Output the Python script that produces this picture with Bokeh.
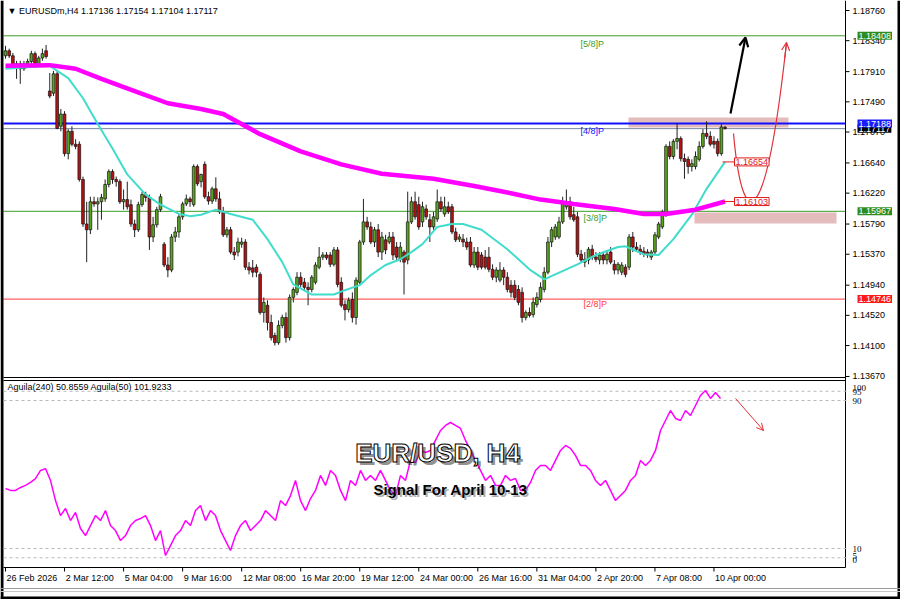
import numpy as np
from bokeh.plotting import figure
from bokeh.models import Range1d, Label, Arrow, OpenHead, ColumnDataSource
from bokeh.core.properties import value
from bokeh.embed import file_html
from bokeh.resources import INLINE

# ---------------- data (EURUSD H4 candles) ----------------
open_ = [1.1813,1.1820,1.1813,1.1799,1.1802,1.1795,1.1802,1.1805,1.1816,1.1799,1.1810,1.1820,
         1.1764,1.1761,1.1788,1.1715,1.1732,1.1677,1.1708,1.1690,1.1690,1.1641,1.1579,1.1571,
         1.1610,1.1607,1.1610,1.1614,1.1634,1.1652,1.1641,1.1638,1.1610,1.1613,1.1606,1.1579,
         1.1571,1.1606,1.1620,1.1616,1.1561,1.1578,1.1599,1.1551,1.1522,1.1515,1.1561,1.1568,
         1.1589,1.1607,1.1614,1.1606,1.1659,1.1638,1.1662,1.1617,1.1611,1.1628,1.1614,1.1596,
         1.1564,1.1571,1.1540,1.1540,1.1551,1.1554,1.1519,1.1518,1.1519,1.1509,1.1456,1.1466,
         1.1442,1.1424,1.1414,1.1438,1.1449,1.1421,1.1477,1.1484,1.1505,1.1498,1.1491,1.1488,
         1.1498,1.1519,1.1533,1.1536,1.1536,1.1523,1.1543,1.1498,1.1467,1.1460,1.1474,1.1449,
         1.1498,1.1554,1.1582,1.1575,1.1554,1.1571,1.1540,1.1557,1.1554,1.1561,1.1547,1.1530,
         1.1540,1.1529,1.1582,1.1610,1.1606,1.1582,1.1600,1.1585,1.1575,1.1586,1.1610,1.1593,
         1.1603,1.1603,1.1568,1.1558,1.1558,1.1554,1.1554,1.1522,1.1540,1.1536,1.1533,1.1533,
         1.1516,1.1505,1.1501,1.1515,1.1505,1.1494,1.1494,1.1488,1.1484,1.1449,1.1456,1.1453,
         1.1467,1.1474,1.1488,1.1512,1.1554,1.1561,1.1561,1.1582,1.1603,1.1610,1.1592,1.1589,
         1.1537,1.1526,1.1529,1.1544,1.1533,1.1529,1.1536,1.1529,1.1540,1.1523,1.1515,1.1512,
         1.1519,1.1519,1.1561,1.1547,1.1544,1.1541,1.1540,1.1533,1.1540,1.1561,1.1575,1.1593,
         1.1687,1.1673,1.1694,1.1698,1.1670,1.1669,1.1659,1.1659,1.1669,1.1687,1.1705,1.1701,
         1.1694,1.1694,1.1677,1.17136]
high = [1.1827,1.1823,1.1817,1.1806,1.1806,1.1806,1.1809,1.1820,1.1819,1.1813,1.1823,1.1828,
        1.1789,1.1792,1.1792,1.1739,1.1736,1.1711,1.1715,1.1697,1.1694,1.1645,1.1610,1.1617,
        1.1617,1.1616,1.1621,1.1641,1.1655,1.1655,1.1645,1.1641,1.1627,1.1638,1.1613,1.1585,
        1.1610,1.1624,1.1624,1.1620,1.1589,1.1603,1.1621,1.1554,1.1533,1.1565,1.1575,1.1593,
        1.1610,1.1620,1.1617,1.1662,1.1662,1.1649,1.1666,1.1624,1.1631,1.1644,1.1624,1.1603,
        1.1575,1.1575,1.1547,1.1560,1.1560,1.1558,1.1526,1.1529,1.1523,1.1512,1.1477,1.1473,
        1.1453,1.1428,1.1445,1.1453,1.1456,1.1481,1.1491,1.1512,1.1512,1.1504,1.1498,1.1508,
        1.1526,1.1547,1.1540,1.1540,1.1540,1.1547,1.1547,1.1505,1.1473,1.1477,1.1484,1.1505,
        1.1557,1.1614,1.1589,1.1582,1.1575,1.1579,1.1568,1.1564,1.1568,1.1568,1.1554,1.1554,
        1.1543,1.1624,1.1617,1.1624,1.1617,1.1610,1.1606,1.1593,1.1596,1.1627,1.1617,1.1617,
        1.1610,1.1607,1.1574,1.1565,1.1565,1.1560,1.1561,1.1547,1.1547,1.1540,1.1543,1.1547,
        1.1523,1.1519,1.1526,1.1519,1.1512,1.1501,1.1501,1.1494,1.1491,1.1459,1.1463,1.1477,
        1.1484,1.1498,1.1519,1.1561,1.1575,1.1579,1.1589,1.1617,1.1627,1.1617,1.1603,1.1596,
        1.1543,1.1540,1.1547,1.1550,1.1540,1.1540,1.1540,1.1543,1.1547,1.1529,1.1526,1.1526,
        1.1523,1.1565,1.1568,1.1554,1.1550,1.1547,1.1544,1.1543,1.1568,1.1582,1.1599,1.1690,
        1.1694,1.1697,1.1719,1.1701,1.1677,1.1673,1.1669,1.1680,1.1694,1.1711,1.1722,1.1708,
        1.1701,1.1698,1.1718,1.17154]
low = [1.1809,1.1810,1.1796,1.1781,1.1774,1.1792,1.1798,1.1800,1.1796,1.1798,1.1806,1.1809,
       1.1754,1.1757,1.1711,1.1708,1.1673,1.1669,1.1687,1.1683,1.1638,1.1575,1.1526,1.1565,
       1.1603,1.1571,1.1585,1.1610,1.1630,1.1635,1.1631,1.1607,1.1599,1.1599,1.1575,1.1561,
       1.1568,1.1603,1.1610,1.1543,1.1554,1.1574,1.1596,1.1519,1.1505,1.1512,1.1554,1.1560,
       1.1585,1.1604,1.1603,1.1603,1.1632,1.1630,1.1614,1.1606,1.1607,1.1610,1.1593,1.1561,
       1.1560,1.1537,1.1529,1.1534,1.1546,1.1515,1.1509,1.1505,1.1505,1.1453,1.1442,1.1431,
       1.1417,1.1410,1.1411,1.1434,1.1414,1.1417,1.1470,1.1480,1.1491,1.1487,1.1466,1.1484,
       1.1495,1.1516,1.1529,1.1529,1.1519,1.1520,1.1491,1.1463,1.1445,1.1456,1.1442,1.1439,
       1.1495,1.1550,1.1571,1.1551,1.1547,1.1533,1.1529,1.1537,1.1551,1.1529,1.1529,1.1526,
       1.1481,1.1523,1.1579,1.1585,1.1571,1.1575,1.1585,1.1554,1.1571,1.1582,1.1596,1.1589,
       1.1593,1.1565,1.1554,1.1554,1.1547,1.1543,1.1519,1.1518,1.1515,1.1516,1.1516,1.1512,
       1.1501,1.1498,1.1498,1.1494,1.1484,1.1477,1.1473,1.1466,1.1442,1.1445,1.1449,1.1449,
       1.1463,1.1470,1.1484,1.1509,1.1547,1.1557,1.1558,1.1579,1.1599,1.1585,1.1582,1.1533,
       1.1526,1.1519,1.1523,1.1529,1.1526,1.1523,1.1523,1.1523,1.1523,1.1509,1.1509,1.1508,
       1.1505,1.1515,1.1540,1.1540,1.1536,1.1533,1.1532,1.1529,1.1537,1.1558,1.1572,1.1589,
       1.1669,1.1669,1.1683,1.1666,1.1642,1.1649,1.1652,1.1655,1.1666,1.1684,1.1697,1.1687,
       1.1684,1.1673,1.1674,1.17104]
close = [1.1820,1.1813,1.1799,1.1802,1.1795,1.1802,1.1805,1.1816,1.1799,1.1810,1.1816,1.1812,
         1.1757,1.1788,1.1712,1.1732,1.1677,1.1708,1.1690,1.1687,1.1641,1.1579,1.1571,1.1610,
         1.1607,1.1610,1.1616,1.1634,1.1652,1.1641,1.1638,1.1610,1.1613,1.1603,1.1579,1.1571,
         1.1606,1.1620,1.1616,1.1561,1.1578,1.1599,1.1617,1.1522,1.1515,1.1561,1.1568,1.1589,
         1.1607,1.1614,1.1610,1.1659,1.1635,1.1648,1.1617,1.1611,1.1628,1.1614,1.1596,1.1564,
         1.1571,1.1540,1.1536,1.1554,1.1554,1.1519,1.1515,1.1512,1.1512,1.1456,1.1470,1.1442,
         1.1421,1.1414,1.1438,1.1449,1.1421,1.1477,1.1488,1.1505,1.1495,1.1491,1.1488,1.1505,
         1.1522,1.1533,1.1536,1.1532,1.1523,1.1543,1.1495,1.1466,1.1460,1.1473,1.1449,1.1501,
         1.1554,1.1582,1.1575,1.1554,1.1571,1.1540,1.1561,1.1543,1.1561,1.1536,1.1533,1.1547,
         1.1526,1.1582,1.1610,1.1589,1.1575,1.1603,1.1589,1.1575,1.1589,1.1610,1.1600,1.1603,
         1.1596,1.1568,1.1557,1.1561,1.1554,1.1547,1.1522,1.1540,1.1519,1.1519,1.1519,1.1516,
         1.1505,1.1515,1.1515,1.1505,1.1488,1.1484,1.1477,1.1470,1.1449,1.1456,1.1452,1.1470,
         1.1477,1.1491,1.1512,1.1554,1.1571,1.1575,1.1582,1.1610,1.1610,1.1589,1.1585,1.1537,
         1.1529,1.1530,1.1544,1.1533,1.1530,1.1536,1.1529,1.1537,1.1526,1.1515,1.1523,1.1522,
         1.1509,1.1561,1.1547,1.1544,1.1540,1.1537,1.1536,1.1540,1.1564,1.1579,1.1596,1.1687,
         1.1673,1.1694,1.1698,1.1670,1.1666,1.1659,1.1663,1.1673,1.1687,1.1705,1.1701,1.1690,
         1.1690,1.1677,1.1714,1.17117]

# slow moving average (magenta) and fast moving average (cyan): bar index -> value
ma_slow_bar = [0, 12, 19, 26, 35, 44, 53, 59, 69, 80, 91, 102, 116, 127, 135, 145, 154, 165, 173, 179, 187, 195]
ma_slow_val = [1.1799, 1.1800, 1.1795, 1.1781, 1.1764, 1.1747, 1.1739, 1.1732, 1.1704, 1.1680, 1.1662,
               1.1649, 1.1642, 1.1632, 1.1624, 1.1613, 1.1607, 1.1600, 1.1593, 1.1593, 1.1599, 1.16103]
ma_fast_bar = [0, 12, 17, 21, 25, 29, 33, 38, 42, 47, 50, 53, 57, 61, 67, 71, 75, 78, 83, 89, 92, 96, 99,
               103, 107, 110, 113, 117, 121, 124, 129, 136, 142, 146, 149, 155, 160, 166, 168, 173, 177,
               181, 186, 190, 195]
ma_fast_val = [1.1795, 1.1799, 1.1782, 1.1754, 1.1718, 1.1684, 1.1648, 1.1620, 1.1606, 1.1593, 1.1590,
               1.1592, 1.1599, 1.1593, 1.1585, 1.1558, 1.1526, 1.1495, 1.1481, 1.1481, 1.1487, 1.1494,
               1.1508, 1.1522, 1.1530, 1.1540, 1.1551, 1.1575, 1.1579, 1.1579, 1.1571, 1.1544, 1.1516,
               1.1502, 1.1509, 1.1523, 1.1536, 1.1547, 1.1548, 1.1537, 1.1536, 1.1558, 1.1592, 1.1628,
               1.16654]

# Aguila oscillator (lower panel), one sample every ~1.36 bars
osc_val = [42.4, 41.4, 41.4, 43.0, 44.1, 45.7, 47.8, 52.2, 53.2, 46.8, 35.9, 27.8, 31.6, 25.1, 29.5, 20.8,
           17.0, 22.4, 27.8, 25.1, 30.5, 22.4, 19.7, 14.3, 17.0, 22.4, 25.1, 26.2, 27.8, 22.4, 14.3, 19.7,
           6.2, 11.6, 17.0, 19.7, 25.1, 22.4, 30.5, 33.2, 25.1, 30.5, 27.8, 19.7, 14.3, 8.9, 17.0, 22.4,
           25.1, 19.7, 22.4, 25.1, 30.5, 27.8, 25.1, 35.9, 33.2, 38.6, 46.8, 35.9, 30.5, 37.0, 41.4, 49.5,
           44.1, 52.2, 49.5, 41.4, 35.9, 46.8, 44.1, 52.2, 46.8, 49.5, 46.8, 52.2, 46.8, 41.4, 38.6, 49.5,
           46.8, 57.6, 56.5, 63.0, 61.9, 63.0, 68.4, 73.8, 76.5, 78.1, 76.5, 74.9, 68.4, 63.0, 57.6, 52.2,
           46.8, 49.5, 44.1, 44.1, 49.5, 46.8, 47.8, 41.4, 41.4, 45.7, 52.2, 54.9, 54.9, 52.2, 57.6, 63.0,
           65.7, 64.1, 60.3, 54.9, 54.9, 52.2, 46.8, 44.1, 46.8, 41.4, 35.9, 38.6, 41.4, 46.8, 49.5, 57.6,
           54.9, 57.6, 63.0, 73.8, 79.2, 84.6, 80.3, 79.2, 84.6, 81.9, 87.3, 92.7, 95.4, 91.1, 94.3, 91.1]
osc_levels = [95, 90, 10, 5]
osc_tick_labels = ["100", "95", "90", "10", "5", "0"]

price_ticks = [1.18760, 1.18340, 1.17910, 1.17490, 1.17070, 1.16640, 1.16220, 1.15790,
               1.15370, 1.14940, 1.14520, 1.14100, 1.13670]
date_ticks = [0, 16, 32, 48, 64, 80, 96, 112, 128, 144, 160, 176, 192]
date_labels = ["26 Feb 2026", "2 Mar 12:00", "5 Mar 04:00", "9 Mar 16:00", "12 Mar 08:00",
               "16 Mar 20:00", "19 Mar 12:00", "24 Mar 00:00", "26 Mar 16:00", "31 Mar 04:00",
               "2 Apr 20:00", "7 Apr 08:00", "10 Apr 00:00"]

murrey_levels = [1.18408, 1.17188, 1.15967, 1.14746]
murrey_names = ["[5/8]P", "[4/8]P", "[3/8]P", "[2/8]P"]
murrey_colors = ["#3c9c28", "#1010ff", "#3c9c28", "#ff3a3a"]
last_price = 1.17117
target_labels = [1.16654, 1.16103]

# ---------------- geometry helpers (page pixels -> data) ----------------
W, H = 900, 599
PXB = 3.69          # pixels per bar
PPU = 7190.0        # pixels per price unit


def X(px):
    return (px - 5) / PXB


def Y(py):
    return 1.18760 - (py - 10) / PPU


def V(py):
    return (566.5 - py) / 1.85


FONT = "Liberation Sans"
p = figure(width=W, height=H, x_range=Range1d(X(0), X(W)), y_range=Range1d(Y(H), Y(0)),
           output_backend="svg", toolbar_location=None, x_axis_location=None, y_axis_location=None,
           min_border=0, min_border_left=0, min_border_right=0, min_border_top=0, min_border_bottom=0)
p.extra_y_ranges = {"osc": Range1d(V(H), V(0))}
p.grid.visible = False
p.outline_line_color = None
p.background_fill_color = "white"
p.border_fill_color = "white"

XL, XR = X(3), X(845)

# shaded zones
p.quad(left=[X(628), X(694)], right=[X(788), X(836)], bottom=[Y(127), Y(223)], top=[Y(117), Y(212)],
       fill_color="#dba5a5", fill_alpha=0.75, line_alpha=0)

# level lines
for lv, col in zip(murrey_levels, murrey_colors):
    p.segment(x0=[XL], y0=[lv], x1=[XR], y1=[lv], line_color=col, line_width=2 if col == "#1010ff" else 1)
p.segment(x0=[XL], y0=[last_price], x1=[XR], y1=[last_price], line_color="#7888a0", line_width=1)

# candles
o = np.array(open_); c = np.array(close)
N = len(c)
src = ColumnDataSource(dict(x=np.arange(N), top=np.maximum(o, c), bottom=np.minimum(o, c),
                            high=high, low=low,
                            color=np.where(c >= o, "#5aa51e", "#b51212")))
p.segment("x", "high", "x", "low", source=src, line_color="#222222", line_width=1)
p.vbar(x="x", top="top", bottom="bottom", width=0.74, fill_color="color", line_color="#111111",
       line_width=0.7, source=src)

# moving averages
p.line(ma_fast_bar, ma_fast_val, line_color="#40dccc", line_width=2)
p.line(ma_slow_bar, ma_slow_val, line_color="#ff00ff", line_width=4.5)

# level names
lbl_pos = [(X(580), Y(43)), (X(580), Y(130)), (X(583), Y(217)), (X(583), Y(303))]
p.text(x=[a for a, b in lbl_pos], y=[b for a, b in lbl_pos], text=murrey_names,
       text_color=murrey_colors, text_font=value(FONT), text_font_size="9px", text_baseline="middle")

# target boxes with connectors
for lv in target_labels:
    p.segment(x0=[X(722)], y0=[lv], x1=[X(734)], y1=[lv], line_color="#e02020", line_width=1)
    p.add_layout(Label(x=X(734), y=lv, text=f"{lv:.5f}", text_color="#e01818", text_font=FONT,
                       text_font_size="9px", text_baseline="middle", background_fill_color="white",
                       border_line_color="#e01818", border_line_width=1, padding=1))

# forecast arrows
p.add_layout(Arrow(end=OpenHead(size=9, line_color="black", line_width=2.2),
                   x_start=X(730), y_start=Y(113), x_end=X(745), y_end=Y(37),
                   line_color="black", line_width=2.2))
bx0, by0, bcx0, bcy0, bcx1, bcy1, bx1, by1 = X(733), Y(133), X(742), Y(235), X(765), Y(235), X(786), Y(42)
p.bezier(x0=[bx0], y0=[by0], x1=[bx1], y1=[by1], cx0=[bcx0], cy0=[bcy0], cx1=[bcx1], cy1=[bcy1],
         line_color="#e0303a", line_width=1.2)
p.add_layout(Arrow(end=OpenHead(size=8, line_color="#e0303a", line_width=1.2),
                   x_start=bx1 - 0.08 * (bx1 - bcx1), y_start=by1 - 0.08 * (by1 - bcy1),
                   x_end=bx1, y_end=by1, line_color="#e0303a", line_width=1.2))

# header
p.text(x=[X(7)], y=[Y(10)], text=["\u25bc EURUSDm,H4  1.17136 1.17154 1.17104 1.17117"],
       text_font=value(FONT), text_font_size="9px", text_baseline="middle", text_color="black")

# ---------------- frame lines ----------------
p.segment(x0=[XR], y0=[Y(0)], x1=[XR], y1=[Y(567)], line_color="black", line_width=1)
for yy in (377, 380, 567):
    p.segment(x0=[XL], y0=[Y(yy)], x1=[XR], y1=[Y(yy)], line_color="black", line_width=1)
p.segment(x0=[X(1.5)], y0=[Y(0)], x1=[X(1.5)], y1=[Y(599)], line_color="black", line_width=3)
p.segment(x0=[X(898.5)], y0=[Y(0)], x1=[X(898.5)], y1=[Y(599)], line_color="black", line_width=3)
for yy, col, lw in ((588, "#9a9a9a", 1), (591, "#c8c8c8", 1), (597.5, "black", 3)):
    p.segment(x0=[X(0)], y0=[Y(yy)], x1=[X(900)], y1=[Y(yy)], line_color=col, line_width=lw)

# price axis ticks and labels
p.segment(x0=[XR] * len(price_ticks), y0=price_ticks, x1=[X(849)] * len(price_ticks), y1=price_ticks,
          line_color="black", line_width=1)
p.text(x=[X(852)] * len(price_ticks), y=price_ticks, text=[f"{t:.5f}" for t in price_ticks],
       text_font=value(FONT), text_font_size="9px", text_baseline="middle", text_color="black")

# right-axis price tags
for lv, bg in [(1.18408, "#2e8b1e"), (1.14746, "#ff1a1a"), (1.15967, "#2e8b1e"),
               (last_price, "black"), (1.17188, "#1a1aff")]:
    p.add_layout(Label(x=X(857), y=lv, text=f"{lv:.5f}", text_color="white",
                       text_font=FONT, text_font_size="9px", text_baseline="middle",
                       background_fill_color=bg, padding=1))

# date axis ticks and labels
p.segment(x0=date_ticks, y0=[Y(567)] * len(date_ticks), x1=date_ticks, y1=[Y(571)] * len(date_ticks),
          line_color="black", line_width=1)
p.text(x=[t + 0.3 for t in date_ticks], y=[Y(577)] * len(date_ticks), text=date_labels,
       text_font=value(FONT), text_font_size="9px", text_baseline="middle", text_color="black")

# ---------------- oscillator panel ----------------
osc_x = (np.arange(5, 721, 5) - 5) / 3.69
p.segment(x0=[XL] * 4, y0=osc_levels, x1=[X(849)] * 4, y1=osc_levels, y_range_name="osc",
          line_color="#b8b8b8", line_dash="3 3", line_width=1)
p.line(osc_x, osc_val, y_range_name="osc", line_color="#ff00ff", line_width=1.5)
p.add_layout(Arrow(end=OpenHead(size=7, line_color="#e03030", line_width=1),
                   x_start=X(735), y_start=V(398), x_end=X(763), y_end=V(430), y_range_name="osc",
                   line_color="#e03030", line_width=1))
p.text(x=[X(7)], y=[Y(386)], text=["Aguila(240) 50.8559  Aguila(50) 101.9233"],
       text_font=value(FONT), text_font_size="9px", text_baseline="middle", text_color="black")
osc_lab_y = [387, 391, 400, 548, 555, 559]
p.text(x=[X(852)] * 6, y=[Y(v) for v in osc_lab_y], text=osc_tick_labels,
       text_font=value("Liberation Serif"), text_font_size="9px", text_baseline="middle", text_color="black")

# titles
p.text(x=[X(440)], y=[Y(455)], text=["EUR/USD, H4"], text_font=value(FONT), text_font_style="bold",
       text_font_size="26px", text_align="center", text_baseline="middle", text_color="#333333",
       text_alpha=0.55)
p.text(x=[X(437)], y=[Y(452)], text=["EUR/USD, H4"], text_font=value(FONT), text_font_style="bold",
       text_font_size="26px", text_align="center", text_baseline="middle", text_color="white",
       text_outline_color="black")
p.text(x=[X(452)], y=[Y(491)], text=["Signal For April 10-13"], text_font=value(FONT),
       text_font_style="bold", text_font_size="15px", text_align="center", text_baseline="middle",
       text_color="#777777", text_alpha=0.6)
p.text(x=[X(450)], y=[Y(489)], text=["Signal For April 10-13"], text_font=value(FONT),
       text_font_style="bold", text_font_size="15px", text_align="center", text_baseline="middle",
       text_color="black")

open("out.html", "w").write(file_html(p, INLINE))
